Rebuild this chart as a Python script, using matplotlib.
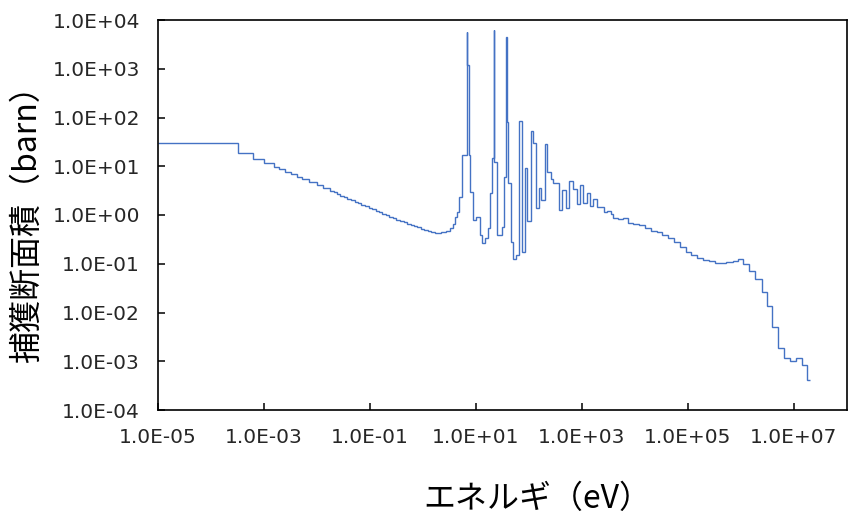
import matplotlib

matplotlib.use("Agg")
import matplotlib.pyplot as plt
from matplotlib.ticker import FixedLocator, FuncFormatter, NullLocator

# group boundaries (eV) and group-averaged capture cross section (barn)
group_edges_ev = [
    1.0e-5, 3.2e-4, 6.2e-4, 1.02e-3, 1.55e-3, 1.96e-3, 2.49e-3, 3.30e-3, 4.20e-3, 5.21e-3,
    7.06e-3, 9.86e-3, 1.32e-2,
    1.76e-2, 2.05e-2, 2.38e-2, 2.77e-2, 3.23e-2, 3.76e-2, 4.38e-2, 5.10e-2, 5.94e-2, 6.91e-2,
    8.05e-2, 9.37e-2, 0.109, 0.127, 0.148, 0.172, 0.200, 0.233, 0.272, 0.316,
    0.368, 0.429, 0.499, 0.581, 0.676, 0.787, 0.916, 1.066, 1.24, 1.443,
    1.68, 2.19, 2.72, 3.23, 3.73, 4.02, 4.32, 4.78, 5.37, 6.62, 6.91, 7.22,
    7.71, 8.67, 10.0, 11.9, 12.8, 14.8, 16.6, 18.1, 20.3, 21.6,
    22.1, 25.2, 30.5, 33.7, 36.8, 37.9, 39.3, 45.2, 49.2, 57.3,
    63.4, 73.1, 84.1, 92.9, 108, 117, 134, 156, 171, 203,
    223, 255, 284, 368, 420, 499, 569, 662, 805, 916,
    1067, 1222, 1387, 1614, 1919, 2600, 3000, 3480, 3900, 4840,
    5860, 7480, 9290, 1.21e4, 1.55e4, 1.98e4, 2.56e4, 3.27e4, 4.25e4, 5.45e4,
    7.06e4, 9.16e4, 1.14e5, 1.46e5, 1.95e5, 2.52e5, 3.23e5, 5.21e5, 6.97e5, 8.89e5,
    1.11e6, 1.42e6, 1.84e6, 2.46e6, 3.05e6, 3.90e6, 5.06e6, 6.47e6, 8.41e6, 1.09e7,
    1.40e7, 1.74e7, 2.0e7,
]
capture_xs_barn = [
    30, 19.0, 14.4, 11.7, 9.8, 8.8, 7.7, 6.8, 6.1, 5.6,
    4.75, 4.12, 3.53,
    3.13, 2.92, 2.65, 2.45, 2.30, 2.14, 2.00, 1.87, 1.75, 1.63,
    1.52, 1.42, 1.32, 1.23, 1.15, 1.07, 0.995, 0.927, 0.863, 0.805,
    0.757, 0.708, 0.663, 0.624, 0.586, 0.557, 0.528, 0.502, 0.479, 0.456,
    0.434, 0.448, 0.48, 0.54, 0.65, 0.92, 1.17, 2.37, 17.0, 5600, 1190, 17.0,
    2.92, 0.79, 0.92, 0.39, 0.27, 0.33, 0.53, 2.79, 14.8, 6240,
    12.4, 0.39, 0.57, 6.1, 4540, 82, 4.47, 0.283, 0.123, 0.151,
    86, 0.177, 9.1, 0.76, 53.6, 29.6, 1.37, 3.53, 2.03, 28.6,
    7.7, 5.5, 4.53, 1.24, 3.26, 1.36, 4.98, 3.41, 1.68, 4.22,
    1.76, 2.89, 1.51, 2.08, 1.43, 1.17, 1.22, 1.03, 0.855, 0.82,
    0.855, 0.695, 0.65, 0.62, 0.53, 0.476, 0.44, 0.39, 0.33, 0.275,
    0.224, 0.177, 0.151, 0.133, 0.119, 0.114, 0.105, 0.110, 0.116, 0.123,
    0.099, 0.070, 0.048, 0.0267, 0.0136, 0.0051, 0.00185, 0.00115, 0.00103, 0.00115,
    0.00084, 0.00041,
]

x_ticks = [1e-5, 1e-3, 1e-1, 1e1, 1e3, 1e5, 1e7]
y_ticks = [1e-4, 1e-3, 1e-2, 1e-1, 1e0, 1e1, 1e2, 1e3, 1e4]

JP_FONT = ["Noto Sans CJK JP", "DejaVu Sans"]
LINE_COLOR = "#4472C4"
TEXT_COLOR = "#262626"

fig = plt.figure(figsize=(8.48, 5.19), dpi=100)
ax = fig.add_axes([158 / 848, 1 - 410 / 519, (847 - 158) / 848, 390 / 519])

ax.stairs(capture_xs_barn, group_edges_ev, baseline=None, color=LINE_COLOR, linewidth=1.0)

ax.set_xscale("log")
ax.set_yscale("log")
ax.set_xlim(1e-5, 1e8)
ax.set_ylim(1e-4, 1e4)

fmt = FuncFormatter(lambda v, _pos: f"{v:.1E}")
ax.xaxis.set_major_locator(FixedLocator(x_ticks))
ax.yaxis.set_major_locator(FixedLocator(y_ticks))
ax.xaxis.set_minor_locator(NullLocator())
ax.yaxis.set_minor_locator(NullLocator())
ax.xaxis.set_major_formatter(fmt)
ax.yaxis.set_major_formatter(fmt)
ax.tick_params(axis="both", which="major", direction="in", length=5, width=1.1,
               labelsize=14.5, labelcolor=TEXT_COLOR, pad=13)

for spine in ax.spines.values():
    spine.set_linewidth(1.2)
    spine.set_color("black")

fig.text(27 / 848, 1 - 216 / 519, "捕獲断面積（barn）", rotation=90, ha="center", va="center",
         fontsize=23, family=JP_FONT, color="black")
fig.text(537 / 848, 1 - 499 / 519, "エネルギ（eV）", ha="center", va="center",
         fontsize=23, family=JP_FONT, color="black")

fig.savefig("out.png", dpi=100, facecolor="white")
plt.close(fig)
